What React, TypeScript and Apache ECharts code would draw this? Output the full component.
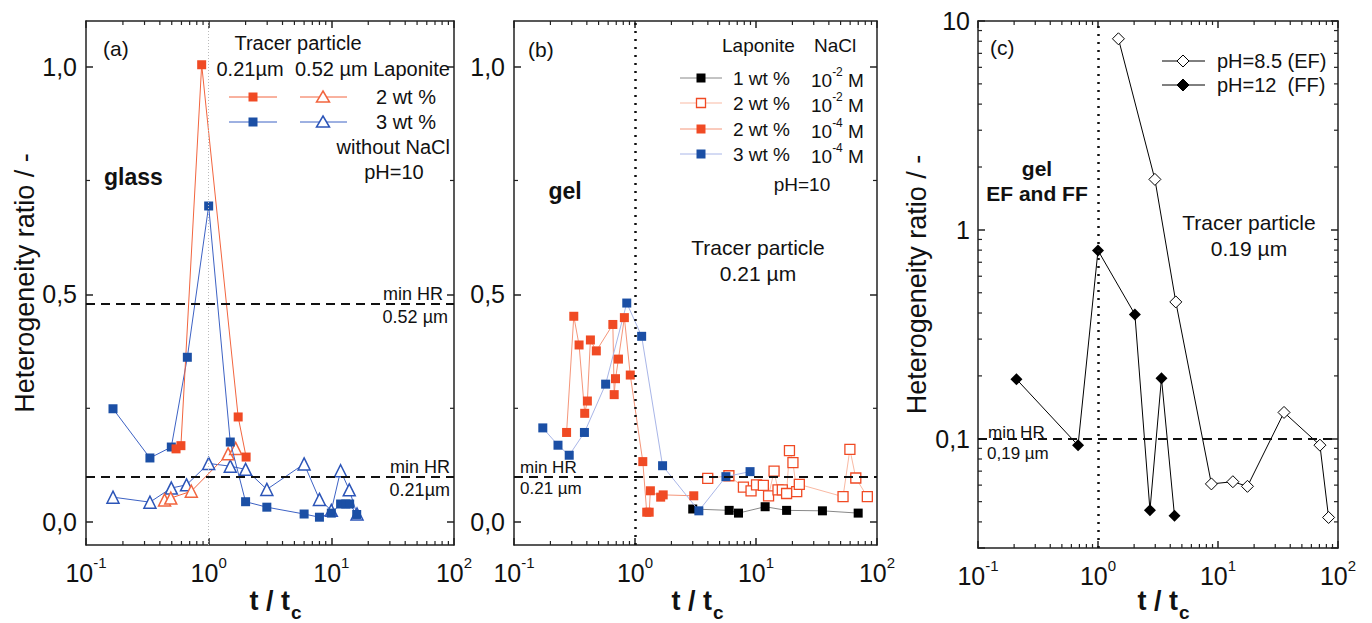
import React, { useEffect, useRef } from 'react';
import * as echarts from 'echarts';

const FONT = '"Liberation Sans", Arial, Helvetica, sans-serif';

// ---------- Panel (a): glass, without NaCl, pH=10 ----------
const aBlue021: number[][] = [
  [0.166, 0.249], [0.332, 0.141], [0.496, 0.165], [0.67, 0.362], [1.0, 0.694],
  [1.5, 0.176], [2.0, 0.045], [2.98, 0.033], [6.0, 0.018], [8.0, 0.011],
  [10, 0.02], [11.9, 0.04], [13.1, 0.04], [14.1, 0.04], [16.1, 0.017],
];
const aRed021: number[][] = [
  [0.542, 0.161], [0.594, 0.168], [0.877, 1.004], [1.74, 0.231], [2.02, 0.143],
];
const aBlue052: number[][] = [
  [0.166, 0.055], [0.332, 0.044], [0.496, 0.075], [0.66, 0.082], [1.0, 0.129],
  [1.5, 0.123], [2.0, 0.116], [2.98, 0.072], [6.0, 0.128], [8.0, 0.05],
  [10, 0.026], [11.9, 0.113], [14.0, 0.071], [16.2, 0.018],
];
const aRed052: number[][] = [
  [0.437, 0.049], [0.491, 0.053], [0.722, 0.068], [1.44, 0.15], [1.66, 0.162],
];
const aMinHR = [0.477, 0.097]; // 0.52 µm, 0.21 µm

// ---------- Panel (b): gel, tracer 0.21 µm ----------
const bBlack1wt: number[][] = [
  [3.0, 0.029], [6.0, 0.026], [7.17, 0.02], [11.9, 0.034], [17.9, 0.026], [35.4, 0.025], [69.9, 0.02],
];
const bRedOpen2wt: number[][] = [
  [3.99, 0.096], [5.97, 0.102], [7.87, 0.077], [9.1, 0.069], [10.1, 0.082], [11.5, 0.081],
  [12.7, 0.058], [14.1, 0.112], [15.2, 0.071], [16.5, 0.071], [17.9, 0.063], [18.9, 0.157],
  [20.2, 0.131], [21.7, 0.067], [22.8, 0.083], [52.4, 0.056], [59.7, 0.16], [66.8, 0.097], [83.2, 0.056],
];
const bRed2wt: number[][] = [
  [0.272, 0.197], [0.312, 0.452], [0.345, 0.389], [0.384, 0.239], [0.404, 0.266], [0.428, 0.4],
  [0.479, 0.376], [0.656, 0.434], [0.673, 0.28], [0.69, 0.315], [0.73, 0.358], [0.817, 0.449],
  [0.914, 0.323], [1.16, 0.133], [1.25, 0.022], [1.31, 0.022], [1.34, 0.069], [1.63, 0.055],
  [1.71, 0.06], [3.06, 0.058],
];
const bBlue3wt: number[][] = [
  [0.173, 0.207], [0.231, 0.169], [0.286, 0.147], [0.382, 0.197], [0.572, 0.303], [0.855, 0.481],
  [1.135, 0.408], [1.69, 0.124], [3.37, 0.025], [5.64, 0.1], [8.93, 0.111],
];
const bMinHR = [0.098];

// ---------- Panel (c): tracer 0.19 µm ----------
const cEF: number[][] = [
  [1.48, 8.22], [2.98, 1.745], [4.45, 0.452], [8.81, 0.0608], [13.3, 0.0623],
  [17.6, 0.0592], [35.5, 0.1337], [70.7, 0.0932], [83.5, 0.042],
];
const cFF: number[][] = [
  [0.209, 0.193], [0.682, 0.093], [1.0, 0.797], [2.03, 0.394], [2.71, 0.0455], [3.38, 0.195], [4.34, 0.0428],
];
const cMinHR = [0.1];
const gelPoint = 1; // t / tc = 1

// tick values
const xDecades = [0.1, 1, 10];
const mult = [2, 3, 4, 5, 6, 7, 8, 9];
const linMinorY = [0.25, 0.75];
const linMajorY = [0, 0.5, 1.0];
const cMinorYDecades = [0.01, 0.1, 1];

const RED = '#f04a24';
const RED_LINE_A = '#f2653f';
const BLUE = '#1b4fa5';
const BLUE_LINE_A = '#3d62c4';
const BLUE_TRI = '#2c55b8';
const AX = '#222';

const minorLog = (decades: number[], lo: number, hi: number) => {
  const out: number[] = [];
  decades.forEach((d) => mult.forEach((m) => {
    const v = +(d * m).toPrecision(6);
    if (v > lo && v < hi) out.push(v);
  }));
  return out;
};

const supRich = {
  b: { fontSize: 25, fontFamily: FONT, color: '#111', lineHeight: 30, verticalAlign: 'bottom' },
  s: { fontSize: 15, fontFamily: FONT, color: '#111', lineHeight: 14, verticalAlign: 'top' },
};
const logFmt = (v: number) => `{b|10}{s|${Math.round(Math.log10(v))}}`;

const lineStyle = { color: AX, width: 1.5 };

function xAxes(grid: number) {
  return [
    {
      type: 'log', logBase: 10, gridIndex: grid, min: 0.1, max: 100, position: 'bottom',
      axisLine: { show: true, onZero: false, lineStyle },
      axisTick: { show: true, inside: true, length: 7, lineStyle },
      axisLabel: { show: true, margin: 10, formatter: logFmt, rich: supRich },
      splitLine: { show: false },
    },
    {
      type: 'log', logBase: 10, gridIndex: grid, min: 0.1, max: 100, position: 'top',
      axisLine: { show: true, onZero: false, lineStyle },
      axisTick: { show: true, inside: true, length: 7, lineStyle },
      axisLabel: { show: false }, splitLine: { show: false },
    },
  ];
}

function linYAxes(grid: number, withName: boolean) {
  const fmt = (v: number) => v.toFixed(1).replace('.', ',');
  return [
    {
      type: 'value', gridIndex: grid, min: -0.05, max: 1.1, position: 'left',
      axisLine: { show: true, onZero: false, lineStyle },
      axisTick: { show: true, inside: true, length: 7, lineStyle, customValues: linMajorY },
      axisLabel: { show: true, margin: 9, fontSize: 25, fontFamily: FONT, color: '#111', formatter: fmt, customValues: linMajorY },
      splitLine: { show: false },
      name: withName ? 'Heterogeneity ratio / -' : '',
      nameLocation: 'middle', nameGap: 38,
      nameTextStyle: { fontSize: 27, fontFamily: FONT, color: '#111' },
    },
    {
      type: 'value', gridIndex: grid, min: -0.05, max: 1.1, position: 'right',
      axisLine: { show: true, onZero: false, lineStyle },
      axisTick: { show: true, inside: true, length: 7, lineStyle, customValues: linMajorY },
      axisLabel: { show: false }, splitLine: { show: false },
    },
  ];
}

function logYAxes(grid: number) {
  const fmt = (v: number) => {
    if (Math.abs(v - 10) < 1e-6) return '10';
    if (Math.abs(v - 1) < 1e-6) return '1';
    if (Math.abs(v - 0.1) < 1e-7) return '0,1';
    return '';
  };
  return [
    {
      type: 'log', logBase: 10, gridIndex: grid, min: 0.03, max: 10, position: 'left',
      axisLine: { show: true, onZero: false, lineStyle },
      axisTick: { show: true, inside: true, length: 7, lineStyle },
      axisLabel: { show: true, margin: 8, fontSize: 25, fontFamily: FONT, color: '#111', formatter: fmt },
      splitLine: { show: false },
      name: 'Heterogeneity ratio / -', nameLocation: 'middle', nameGap: 48,
      nameTextStyle: { fontSize: 27, fontFamily: FONT, color: '#111' },
    },
    {
      type: 'log', logBase: 10, gridIndex: grid, min: 0.03, max: 10, position: 'right',
      axisLine: { show: true, onZero: false, lineStyle },
      axisTick: { show: true, inside: true, length: 7, lineStyle },
      axisLabel: { show: false }, splitLine: { show: false },
    },
  ];
}

function minorTicks(xi: number, yi: number, xs: number[], ys: number[], yRef: number, xRef: number) {
  const data = [...xs.map((v) => [v, yRef, 0]), ...ys.map((v) => [xRef, v, 1])];
  return {
    type: 'custom', xAxisIndex: xi, yAxisIndex: yi, data, silent: true, z: 1, clip: false,
    encode: { x: 0, y: 1 },
    renderItem: (params: any, api: any) => {
      const cs = params.coordSys;
      const p = api.coord([api.value(0), api.value(1)]);
      const style = { stroke: AX, lineWidth: 1.2 };
      const L = 4;
      if (api.value(2) === 0) {
        return {
          type: 'group', children: [
            { type: 'line', shape: { x1: p[0], y1: cs.y + cs.height, x2: p[0], y2: cs.y + cs.height - L }, style },
            { type: 'line', shape: { x1: p[0], y1: cs.y, x2: p[0], y2: cs.y + L }, style },
          ],
        };
      }
      return {
        type: 'group', children: [
          { type: 'line', shape: { x1: cs.x, y1: p[1], x2: cs.x + L, y2: p[1] }, style },
          { type: 'line', shape: { x1: cs.x + cs.width, y1: p[1], x2: cs.x + cs.width - L, y2: p[1] }, style },
        ],
      };
    },
  };
}

const dashed = { color: '#111', width: 2, type: [9, 6] };
const dottedBlack = { color: '#111', width: 2.5, type: [2, 6] };
const dottedGray = { color: '#bbb', width: 1, type: [1, 2] };

function refLines(vx: number, xStyle: any, ys: number[]) {
  return {
    silent: true, symbol: ['none', 'none'], label: { show: false }, animation: false,
    data: [
      { xAxis: vx, lineStyle: xStyle },
      ...ys.map((y) => ({ yAxis: y, lineStyle: dashed })),
    ],
  };
}

// ---------- graphic helpers ----------
const gLine = (x1: number, x2: number, y: number, color: string, w = 1) =>
  ({ type: 'line', z: 100, shape: { x1, y1: y, x2, y2: y }, style: { stroke: color, lineWidth: w } });
const gSq = (cx: number, cy: number, fill: string, stroke?: string) =>
  ({ type: 'rect', z: 101, shape: { x: cx - 4.5, y: cy - 4.5, width: 9, height: 9 }, style: { fill, stroke: stroke || null, lineWidth: 1.3 } });
const gTri = (cx: number, cy: number, color: string) =>
  ({ type: 'polygon', z: 101, shape: { points: [[cx, cy - 6], [cx + 6.5, cy + 5], [cx - 6.5, cy + 5]] }, style: { fill: '#fff', stroke: color, lineWidth: 1.5 } });
const gDia = (cx: number, cy: number, fill: string) =>
  ({ type: 'polygon', z: 101, shape: { points: [[cx, cy - 6], [cx + 6, cy], [cx, cy + 6], [cx - 6, cy]] }, style: { fill, stroke: '#000', lineWidth: 1 } });
const gTxt = (x: number, y: number, text: string, size: number, align = 'left', bold = false) =>
  ({
    type: 'text', z: 102, x, y,
    style: { text, fill: '#111', fontSize: size, fontFamily: FONT, fontWeight: bold ? 'bold' : 'normal', align, verticalAlign: 'middle' },
  });
const gSup = (x: number, y: number, base: string, sup: string, tail: string, size: number) =>
  ({
    type: 'text', z: 102, x, y,
    style: {
      text: `{n|${base}}{s|${sup}}{n|${tail}}`, align: 'left', verticalAlign: 'middle',
      rich: {
        n: { fontSize: size, fontFamily: FONT, fill: '#111', color: '#111', lineHeight: 24, verticalAlign: 'bottom' },
        s: { fontSize: 12, fontFamily: FONT, fill: '#111', color: '#111', lineHeight: 12, verticalAlign: 'top' },
      },
    },
  });
// x-axis title "t / t_c": main part right-aligned at x, subscript left-aligned after it
const gXTitle = (x: number, y: number) => [
  gTxt(x, y, 't / t', 27, 'right', true),
  gTxt(x + 1, y + 11, 'c', 19, 'left', true),
];

export default function App() {
  const ref = useRef<HTMLDivElement>(null);
  useEffect(() => {
    if (!ref.current) return;
    const chart = echarts.init(ref.current, null, { renderer: 'svg' });

    const minorXab = minorLog(xDecades, 0.1, 100);
    const minorYc = minorLog(cMinorYDecades, 0.03, 10);

    const graphic: any[] = [
      // panel (a)
      gTxt(103, 48, '(a)', 21),
      gTxt(298, 43, 'Tracer particle', 20, 'center'),
      gTxt(250, 69, '0.21µm', 20, 'center'),
      gTxt(295, 69, '0.52 µm Laponite', 20, 'left'),
      gLine(229, 277, 97, RED_LINE_A), gSq(253, 97, RED),
      gLine(300, 347, 97, RED_LINE_A), gTri(323, 97, RED_LINE_A),
      gTxt(376, 97, '2 wt %', 20),
      gLine(229, 277, 122, BLUE_LINE_A), gSq(253, 122, BLUE),
      gLine(300, 347, 122, BLUE_LINE_A), gTri(323, 122, BLUE_TRI),
      gTxt(376, 122, '3 wt %', 20),
      gTxt(450, 147, 'without NaCl', 20, 'right'),
      gTxt(394, 172, 'pH=10', 20, 'center'),
      gTxt(104, 177, 'glass', 23, 'left', true),
      gTxt(443, 294, 'min HR', 18, 'right'),
      gTxt(448, 317, '0.52 µm', 18, 'right'),
      gTxt(450, 467, 'min HR', 18, 'right'),
      gTxt(450, 490, '0.21µm', 18, 'right'),
      ...gXTitle(290, 601),
      // panel (b)
      gTxt(528, 49, '(b)', 21),
      gTxt(722, 45, 'Laponite', 19),
      gTxt(814, 45, 'NaCl', 19),
      gLine(680, 722, 78, '#888'), gSq(701, 78, '#000'),
      gTxt(733, 78, '1 wt %', 19), gSup(811, 78, '10', '-2', ' M', 19),
      gLine(680, 722, 103, '#f9b9a3'), gSq(701, 103, '#fff', RED),
      gTxt(733, 103, '2 wt %', 19), gSup(811, 103, '10', '-2', ' M', 19),
      gLine(680, 722, 129, '#f5967a'), gSq(701, 129, RED),
      gTxt(733, 129, '2 wt %', 19), gSup(811, 129, '10', '-4', ' M', 19),
      gLine(680, 722, 154, '#a9b6e8'), gSq(701, 154, BLUE),
      gTxt(733, 154, '3 wt %', 19), gSup(811, 154, '10', '-4', ' M', 19),
      gTxt(802, 184, 'pH=10', 19, 'center'),
      gTxt(565, 191, 'gel', 23, 'center', true),
      gTxt(758, 247, 'Tracer particle', 21, 'center'),
      gTxt(758, 273, '0.21 µm', 21, 'center'),
      gTxt(520, 467, 'min HR', 17),
      gTxt(520, 488, '0.21 µm', 17),
      ...gXTitle(712, 601),
      // panel (c)
      gTxt(990, 47, '(c)', 21),
      gLine(1162, 1205, 61, '#000'), gDia(1183, 61, '#fff'),
      gTxt(1217, 61, 'pH=8.5 (EF)', 20),
      gLine(1162, 1205, 85, '#000'), gDia(1183, 85, '#000'),
      gTxt(1217, 85, 'pH=12  (FF)', 20),
      gTxt(1037, 168, 'gel', 21, 'center', true),
      gTxt(1037, 193, 'EF and FF', 21, 'center', true),
      gTxt(1249, 222, 'Tracer particle', 21, 'center'),
      gTxt(1249, 248, '0.19 µm', 21, 'center'),
      gTxt(988, 432, 'min HR', 17),
      gTxt(987, 453, '0,19 µm', 17),
      ...gXTitle(1178, 601),
    ];

    const option: any = {
      animation: false,
      textStyle: { fontFamily: FONT },
      grid: [
        { left: 86, top: 21, width: 368, height: 524, containLabel: false, outerBoundsMode: 'none' },
        { left: 514, top: 21, width: 363, height: 524, containLabel: false, outerBoundsMode: 'none' },
        { left: 978, top: 21, width: 360, height: 527, containLabel: false, outerBoundsMode: 'none' },
      ],
      xAxis: [...xAxes(0), ...xAxes(1), ...xAxes(2)],
      yAxis: [...linYAxes(0, true), ...linYAxes(1, false), ...logYAxes(2)],
      graphic,
      series: [
        // (a)
        {
          type: 'line', xAxisIndex: 0, yAxisIndex: 0, data: aBlue052, symbol: 'triangle', symbolSize: 12,
          itemStyle: { color: '#fff', borderColor: BLUE_TRI, borderWidth: 1.5 },
          lineStyle: { color: BLUE_LINE_A, width: 1 }, z: 3,
          markLine: refLines(gelPoint, dottedGray, aMinHR),
        },
        {
          type: 'line', xAxisIndex: 0, yAxisIndex: 0, data: aRed052, symbol: 'triangle', symbolSize: 12,
          itemStyle: { color: '#fff', borderColor: RED_LINE_A, borderWidth: 1.5 },
          lineStyle: { color: RED_LINE_A, width: 1 }, z: 3,
        },
        {
          type: 'line', xAxisIndex: 0, yAxisIndex: 0, data: aBlue021, symbol: 'rect', symbolSize: 9,
          itemStyle: { color: BLUE }, lineStyle: { color: BLUE_LINE_A, width: 1 }, z: 4,
        },
        {
          type: 'line', xAxisIndex: 0, yAxisIndex: 0, data: aRed021, symbol: 'rect', symbolSize: 9,
          itemStyle: { color: RED }, lineStyle: { color: RED_LINE_A, width: 1 }, z: 4,
        },
        minorTicks(0, 0, minorXab, linMinorY, 0.5, 1),
        // (b)
        {
          type: 'line', xAxisIndex: 2, yAxisIndex: 2, data: bBlack1wt, symbol: 'rect', symbolSize: 9,
          itemStyle: { color: '#000' }, lineStyle: { color: '#888', width: 1 }, z: 3,
          markLine: refLines(gelPoint, dottedBlack, bMinHR),
        },
        {
          type: 'line', xAxisIndex: 2, yAxisIndex: 2, data: bRedOpen2wt, symbol: 'rect', symbolSize: 10,
          itemStyle: { color: '#fff', borderColor: RED, borderWidth: 1.3 }, lineStyle: { color: '#f9b9a3', width: 1 }, z: 3,
        },
        {
          type: 'line', xAxisIndex: 2, yAxisIndex: 2, data: bRed2wt, symbol: 'rect', symbolSize: 9,
          itemStyle: { color: RED }, lineStyle: { color: '#f5967a', width: 1 }, z: 4,
        },
        {
          type: 'line', xAxisIndex: 2, yAxisIndex: 2, data: bBlue3wt, symbol: 'rect', symbolSize: 9,
          itemStyle: { color: BLUE }, lineStyle: { color: '#a9b6e8', width: 1 }, z: 4,
        },
        minorTicks(2, 2, minorXab, linMinorY, 0.5, 1),
        // (c)
        {
          type: 'line', xAxisIndex: 4, yAxisIndex: 4, data: cEF, symbol: 'diamond', symbolSize: 12,
          itemStyle: { color: '#fff', borderColor: '#000', borderWidth: 1 }, lineStyle: { color: '#000', width: 1 }, z: 3,
          markLine: refLines(gelPoint, dottedBlack, cMinHR),
        },
        {
          type: 'line', xAxisIndex: 4, yAxisIndex: 4, data: cFF, symbol: 'diamond', symbolSize: 12,
          itemStyle: { color: '#000' }, lineStyle: { color: '#000', width: 1 }, z: 3,
        },
        minorTicks(4, 4, minorXab, minorYc, 1, 1),
      ],
    };
    chart.setOption(option);
    return () => chart.dispose();
  }, []);
  return <div ref={ref} style={{ position: 'absolute', left: 0, top: 0, width: 1372, height: 623, background: '#fff' }} />;
}
